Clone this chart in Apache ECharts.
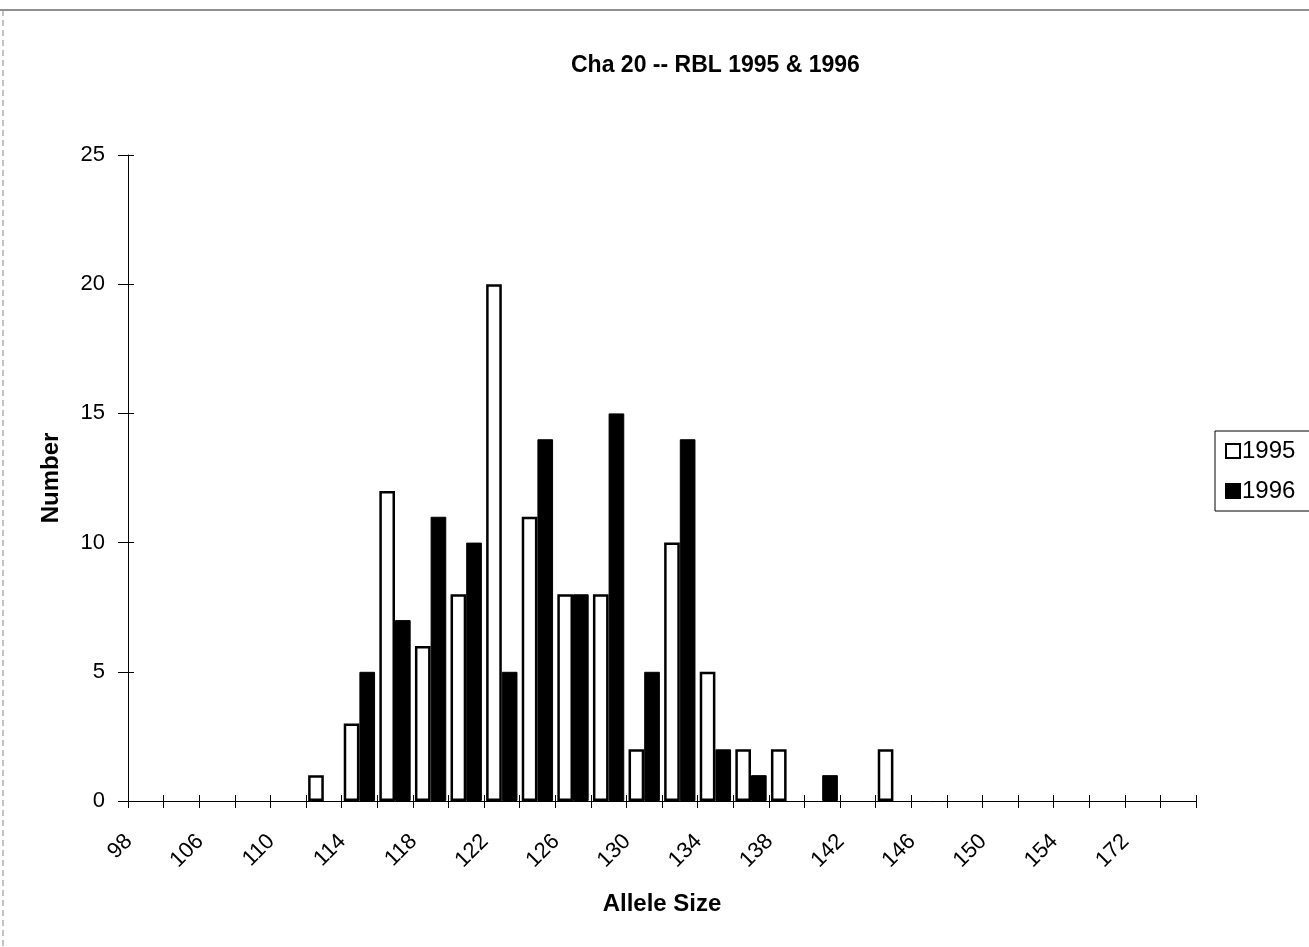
<!DOCTYPE html>
<html>
<head>
<meta charset="utf-8">
<script src="https://cdn.jsdelivr.net/npm/echarts@6/dist/echarts.min.js"></script>
<style>
  html, body { margin: 0; padding: 0; background: #fff; }
  #chart { width: 1309px; height: 947px; }
</style>
</head>
<body>
<div id="chart"></div>
<script>
const categories = ['98','102','106','108','110','112','114','116','118','120','122','124','126','128','130','132','134','136','138','140','142','144','146','148','150','152','154','156','172','174'];
const series1995 = [0,0,0,0,0,1,3,12,6,8,20,11,8,8,2,10,5,2,2,0,0,2,0,0,0,0,0,0,0,0];
const series1996 = [0,0,0,0,0,0,5,7,11,10,5,14,8,15,5,14,2,1,0,1,0,0,0,0,0,0,0,0,0,0];
const yTicks = { min: 0, max: 25, interval: 5 };

// zero-count categories draw no bar (avoid border stubs on the baseline)
const toBarData = arr => arr.map(v => (v === 0 ? '-' : v));

const FONT = '"Liberation Sans", Arial, sans-serif';
const chart = echarts.init(document.getElementById('chart'));
chart.setOption({
  backgroundColor: '#fff',
  animation: false,
  title: {
    text: 'Cha 20 -- RBL 1995 & 1996',
    left: 566,
    top: 49,
    textStyle: { fontFamily: FONT, fontWeight: 'bold', fontSize: 23, color: '#000' }
  },
  graphic: [
    { type: 'line', shape: { x1: 0, y1: 10, x2: 1309, y2: 10 }, style: { stroke: '#222', lineWidth: 1.2 } },
    { type: 'line', shape: { x1: 3, y1: 10, x2: 3, y2: 947 }, style: { stroke: '#888', lineWidth: 1, lineDash: [6, 4] } }
  ],
  legend: {
    orient: 'vertical',
    left: 1215,
    top: 431,
    padding: [8, 40, 8, 10],
    itemGap: 16,
    itemWidth: 14,
    itemHeight: 14,
    icon: 'rect',
    borderColor: '#000',
    borderWidth: 1,
    textStyle: { fontFamily: FONT, fontSize: 24, color: '#000', padding: [0, 0, 0, -3] },
    data: ['1995', '1996']
  },
  grid: { left: 128, top: 155, right: 113, bottom: 146, containLabel: false },
  xAxis: [{
    type: 'category',
    data: categories,
    name: 'Allele Size',
    nameLocation: 'middle',
    nameGap: 91,
    nameTextStyle: { fontFamily: FONT, fontWeight: 'bold', fontSize: 24, color: '#000' },
    axisLine: { lineStyle: { color: '#000', width: 1 } },
    axisTick: { show: true, interval: 0, length: 7, lineStyle: { color: '#000' } },
    axisLabel: { interval: 1, rotate: 45, margin: 20, padding: [0, 24, 0, 0], fontFamily: FONT, fontSize: 22, color: '#000' }
  }, {
    type: 'category',
    data: categories,
    position: 'bottom',
    axisLine: { show: false },
    axisTick: { show: true, inside: true, interval: 0, length: 6, lineStyle: { color: '#000' } },
    axisLabel: { show: false }
  }],
  yAxis: [{
    type: 'value',
    min: yTicks.min,
    max: yTicks.max,
    interval: yTicks.interval,
    name: 'Number',
    nameLocation: 'middle',
    nameGap: 65,
    nameTextStyle: { fontFamily: FONT, fontWeight: 'bold', fontSize: 24, color: '#000' },
    axisLine: { show: true, lineStyle: { color: '#000', width: 1 } },
    axisTick: { show: true, length: 10, lineStyle: { color: '#000' } },
    splitLine: { show: false },
    axisLabel: { margin: 23, fontFamily: FONT, fontSize: 22, color: '#000' }
  }, {
    type: 'value',
    position: 'left',
    min: yTicks.min,
    max: yTicks.max,
    interval: yTicks.interval,
    axisLine: { show: false },
    axisTick: { show: true, inside: true, length: 6, lineStyle: { color: '#000' } },
    splitLine: { show: false },
    axisLabel: { show: false }
  }],
  series: [
    {
      name: '1995', type: 'bar', data: toBarData(series1995),
      barGap: '0%', barCategoryGap: '12%',
      itemStyle: { color: '#fff', borderColor: '#000', borderWidth: 2.5 }
    },
    {
      name: '1996', type: 'bar', data: toBarData(series1996),
      barGap: '0%', barCategoryGap: '12%',
      itemStyle: { color: '#000', borderColor: '#000', borderWidth: 1 }
    }
  ]
});
</script>
</body>
</html>
